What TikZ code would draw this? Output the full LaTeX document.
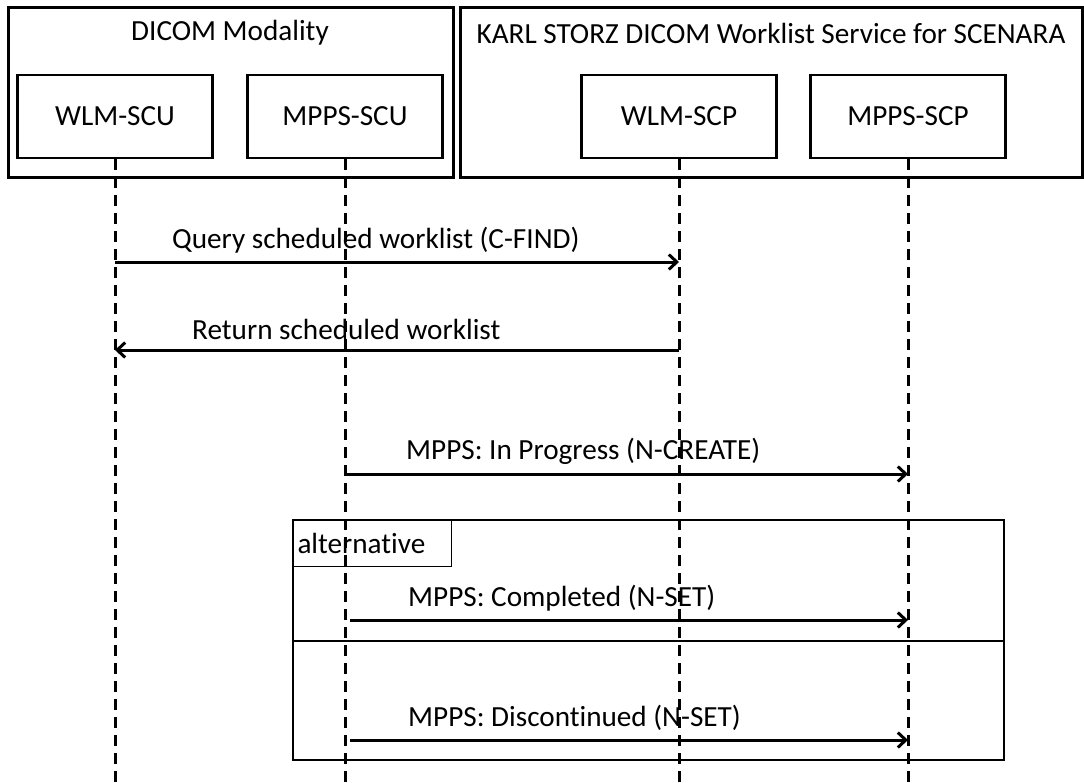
\documentclass[tikz,border=0pt]{standalone}
\usepackage{fontspec}
\setmainfont{Carlito}[Ligatures=NoCommon]
\usetikzlibrary{arrows.meta}
\begin{document}
\begin{tikzpicture}[x=1pt,y=-1pt,
  txt/.style={font=\fontsize{29.2}{33}\selectfont},
  frame/.style={draw, line width=3pt, inner sep=0pt},
  part/.style={draw, line width=2.5pt, minimum width=195pt, minimum height=83pt, txt},
  life/.style={line width=3pt, dash pattern=on 11pt off 7pt},
  msg/.style={line width=3pt, -{Straight Barb[length=8pt,width=15pt,line width=3pt]}},
  lbl/.style={txt, inner sep=0pt, anchor=west}]
\useasboundingbox (0,0) rectangle (1084,782);
% group frames
\node[frame, minimum width=445pt, minimum height=170pt] (g1) at (230.5,92) {};
\node[frame, minimum width=622pt, minimum height=170pt] (g2) at (771,92) {};
\node[txt] (g1t) at (230,33) {DICOM Modality};
\node[txt] (g2t) at (771,33) {KARL STORZ DICOM Worklist Service for SCENARA};
% participants
\node[part] (wscu) at (115,116.5) {WLM-SCU};
\node[part] (mscu) at (345,116.5) {MPPS-SCU};
\node[part] (wscp) at (679,116.5) {WLM-SCP};
\node[part] (mscp) at (908,116.5) {MPPS-SCP};
% alternative frame
\node[draw, line width=2.5pt, minimum width=711pt, minimum height=240pt, inner sep=0pt] (alt) at (648.5,640) {};
\coordinate (div) at (0,641);
\draw[line width=2pt] (alt.west |- div) -- (alt.east |- div);
\node[draw, line width=1.5pt, anchor=north west, minimum height=47pt, text width=149pt, inner sep=5pt, align=left, txt] (altl) at (alt.north west) {alternative};
% lifelines
\coordinate (bot) at (0,786);
\foreach \p in {wscu,mscu,wscp,mscp}
  \draw[life] (\p.south) -- (\p.south |- bot);
% messages
\coordinate (m1) at (0,262);
\coordinate (m2) at (0,350);
\coordinate (m3) at (0,474);
\coordinate (m4) at (0,620);
\coordinate (m5) at (0,740);
\draw[msg] (wscu.south |- m1) -- (wscp.south |- m1);
\draw[msg] (wscp.south |- m2) -- (wscu.south |- m2);
\draw[msg] (mscu.south |- m3) -- (mscp.south |- m3);
\draw[msg] ([xshift=5pt]mscu.south |- m4) -- (mscp.south |- m4);
\draw[msg] ([xshift=5pt]mscu.south |- m5) -- (mscp.south |- m5);
% labels
\node[lbl] (l1) at (172,240) {Query scheduled worklist (C-FIND)};
\node[lbl] (l2) at (192,329) {Return scheduled worklist};
\node[lbl] (l3) at (406,451) {MPPS: In Progress (N-CREATE)};
\node[lbl] (l4) at (408,598) {MPPS: Completed (N-SET)};
\node[lbl] (l5) at (408,718) {MPPS: Discontinued (N-SET)};
\end{tikzpicture}
\end{document}
